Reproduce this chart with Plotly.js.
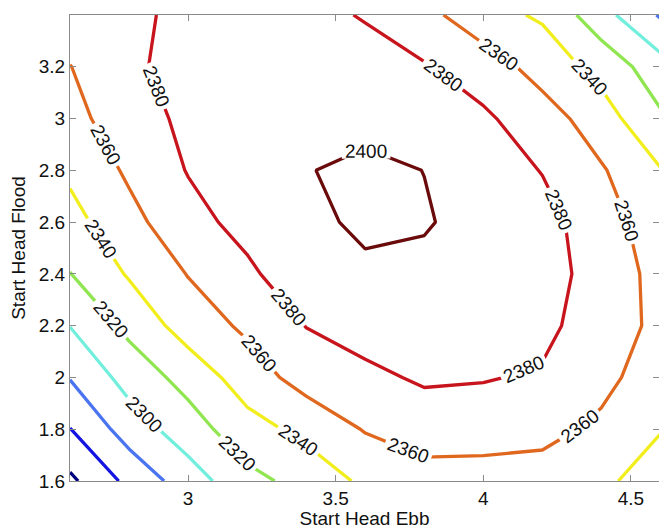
<!DOCTYPE html>
<html>
<head>
<meta charset="utf-8">
<script src="https://cdn.plot.ly/plotly-3.0.1.min.js"></script>
<style>
html,body{margin:0;padding:0;background:#fff;}
#chart{width:659px;height:529px;}
</style>
</head>
<body>
<div id="chart"></div>
<script>
// Grid of "Start Head Ebb" (x) and "Start Head Flood" (y)
var startHeadEbb = [2.6, 2.8, 3.0, 3.2, 3.4, 3.6, 3.8, 4.0, 4.2, 4.4, 4.6];
var startHeadFlood = [1.6, 1.8, 2.0, 2.2, 2.4, 2.6, 2.8, 3.0, 3.2, 3.4];

// Values estimated from the contour picture, one row per Start Head Flood value
var z_1_6 = [2236, 2265.1, 2290.2, 2313.8, 2327.1, 2343.9, 2350, 2352, 2350, 2344, 2330];
var z_1_8 = [2259.5, 2289.2, 2310.6, 2332.5, 2345.5, 2361.3, 2371.7, 2368.3, 2366.7, 2355.3, 2341];
var z_2_0 = [2281, 2307.8, 2327.2, 2350, 2368.2, 2376.6, 2382, 2381.3, 2377.6, 2366.6, 2347.2];
var z_2_2 = [2300.5, 2325.2, 2349.3, 2363.6, 2380.5, 2386.3, 2390, 2389, 2385.5, 2368.6, 2356];
var z_2_4 = [2319.5, 2342, 2360.8, 2376, 2393.8, 2397, 2396, 2392, 2390, 2370, 2354.6];
var z_2_6 = [2333, 2354, 2373, 2386.7, 2395.9, 2403.2, 2401.4, 2394, 2388, 2367.2, 2351];
var z_2_8 = [2343.8, 2363.1, 2381, 2390, 2399.2, 2404, 2399.8, 2392, 2379.1, 2362, 2341];
var z_3_0 = [2352, 2374.2, 2382.8, 2390, 2393, 2394.6, 2392, 2383, 2369.7, 2348.8, 2322.9];
var z_3_2 = [2359.5, 2377, 2386.1, 2390, 2390, 2382.8, 2381.5, 2371, 2351.4, 2333.3, 2308];
var z_3_4 = [2372, 2377.5, 2382.9, 2386, 2382, 2379.5, 2366.5, 2346.5, 2337.5, 2307.3, 2278];

// Contour levels and tick labels
var levelStart = 2240, levelEnd = 2400, levelStep = 20;
// Extra empty levels below the data (they draw nothing) only make Plotly
// place contour labels more densely, as MATLAB's clabel does.
var emptyLevelsBelow = 80;
var xTicks = [3, 3.5, 4, 4.5];
var xTickText = ['3', '3.5', '4', '4.5'];
var yTicks = [1.6, 1.8, 2.0, 2.2, 2.4, 2.6, 2.8, 3.0, 3.2];
var yTickText = ['1.6', '1.8', '2', '2.2', '2.4', '2.6', '2.8', '3', '3.2'];

var zGrid = [z_1_6, z_1_8, z_2_0, z_2_2, z_2_4, z_2_6, z_2_8, z_3_0, z_3_2, z_3_4];

var levelColors = [
  [0.0, '#00007e'],
  [0.125, '#1414e2'],
  [0.25, '#4a74f0'],
  [0.375, '#72efdc'],
  [0.5, '#90e650'],
  [0.625, '#f2ee1e'],
  [0.75, '#e0681e'],
  [0.875, '#c8141c'],
  [1.0, '#6a0a0a']
];

var fontFamily = 'Liberation Sans, Arial, sans-serif';

var trace = {
  type: 'contour',
  x: startHeadEbb,
  y: startHeadFlood,
  z: zGrid,
  zmin: levelStart,
  zmax: levelEnd,
  autocontour: false,
  contours: {
    coloring: 'lines',
    start: levelStart - emptyLevelsBelow * levelStep,
    end: levelEnd,
    size: levelStep,
    showlabels: true,
    labelfont: {family: fontFamily, size: 19, color: '#111'}
  },
  line: {width: 3.3, smoothing: 0},
  colorscale: levelColors,
  showscale: false,
  hoverinfo: 'x+y+z'
};

var axisCommon = {
  showline: true,
  linecolor: '#8a8a8a',
  linewidth: 1,
  mirror: 'ticks',
  ticks: 'inside',
  ticklen: 6,
  tickcolor: '#8a8a8a',
  showgrid: false,
  zeroline: false,
  tickfont: {family: fontFamily, size: 19, color: '#111'}
};

var layout = {
  width: 659,
  height: 529,
  margin: {l: 70, r: 0, t: 15, b: 48},
  paper_bgcolor: '#ffffff',
  plot_bgcolor: '#ffffff',
  showlegend: false,
  xaxis: Object.assign({}, axisCommon, {
    range: [2.6, 4.595],
    tickvals: xTicks,
    ticktext: xTickText,
    title: {text: 'Start Head Ebb', font: {family: fontFamily, size: 19, color: '#111'}, standoff: 0}
  }),
  yaxis: Object.assign({}, axisCommon, {
    range: [1.6, 3.4],
    tickvals: yTicks,
    ticktext: yTickText,
    title: {text: 'Start Head Flood', font: {family: fontFamily, size: 19, color: '#111'}, standoff: 8}
  })
};

Plotly.newPlot('chart', [trace], layout, {displayModeBar: false, staticPlot: true});
</script>
</body>
</html>
